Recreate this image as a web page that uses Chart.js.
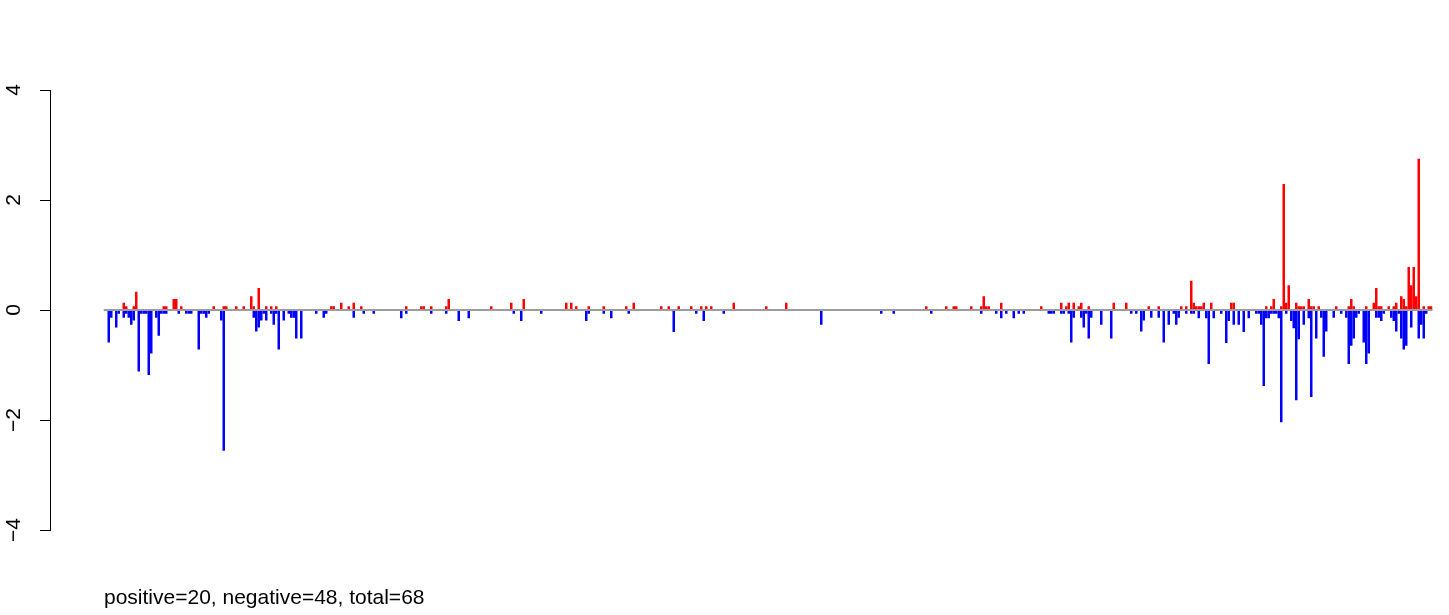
<!DOCTYPE html>
<html>
<head>
<meta charset="utf-8">
<script src="https://cdn.jsdelivr.net/npm/chart.js@4/dist/chart.umd.min.js"></script>
<style>
  html, body { margin: 0; padding: 0; background: #fff; }
  #wrap { position: relative; width: 1449px; height: 615px; }
  #note {
    position: absolute; left: 104px; top: 585px;
    font-family: "Liberation Sans", Arial, sans-serif; font-size: 21px; color: #000;
    white-space: nowrap;
  }
</style>
</head>
<body>
<div id="wrap">
  <canvas id="chart" width="1449" height="615"></canvas>
  <div id="note">positive=20, negative=48, total=68</div>
</div>
<script>
  // positions along the axis (slot number) and values
  const nSlots = 553;

  const upIdx = [29, 30, 33, 34, 45, 46, 49, 50, 52, 65, 69, 70, 74, 77, 80, 81, 83, 86, 88, 90,
    112, 113, 116, 119, 121, 124, 142, 148, 149, 152, 158, 159, 176, 184, 189, 206, 208, 210,
    215, 221, 230, 233, 244, 247, 251, 256, 260, 262, 264, 273, 286, 294, 350, 358, 361, 362,
    368, 372, 373, 374, 375, 380, 396, 404, 406, 407, 409, 411, 412, 415, 425, 430, 439, 443,
    452, 454, 456, 457, 458, 459, 460, 461, 464, 472, 473, 486, 488, 489, 492, 493, 494, 495,
    498, 499, 500, 501, 503, 504, 505, 507, 514, 519, 520, 521, 526, 529, 530, 531, 532, 535,
    537, 538, 540, 541, 542, 543, 544, 545, 546, 547, 549, 551, 552];
  const upVal = [0.13, 0.07, 0.07, 0.33, 0.07, 0.07, 0.2, 0.2, 0.07, 0.07, 0.07, 0.07, 0.07, 0.07, 0.25, 0.07, 0.4, 0.07, 0.07, 0.07,
    0.07, 0.07, 0.13, 0.07, 0.13, 0.07, 0.07, 0.07, 0.07, 0.07, 0.07, 0.2, 0.07, 0.13, 0.2, 0.13, 0.13, 0.07,
    0.07, 0.07, 0.07, 0.13, 0.07, 0.07, 0.07, 0.07, 0.07, 0.07, 0.07, 0.13, 0.07, 0.13, 0.07, 0.07, 0.07, 0.07,
    0.07, 0.07, 0.25, 0.07, 0.07, 0.13, 0.07, 0.13, 0.07, 0.13, 0.13, 0.07, 0.13, 0.07, 0.13, 0.13, 0.07, 0.07,
    0.07, 0.07, 0.53, 0.13, 0.07, 0.07, 0.07, 0.13, 0.13, 0.13, 0.13, 0.07, 0.07, 0.2, 0.07, 2.29, 0.13, 0.45,
    0.13, 0.07, 0.07, 0.07, 0.2, 0.07, 0.07, 0.07, 0.07, 0.07, 0.2, 0.07, 0.07, 0.13, 0.4, 0.07, 0.07, 0.07,
    0.07, 0.13, 0.25, 0.2, 0.07, 0.78, 0.45, 0.78, 0.25, 2.75, 0.07, 0.07, 0.07];

  const downIdx = [23, 24, 26, 27, 29, 30, 31, 32, 33, 35, 36, 37, 38, 39, 40, 42, 43, 44, 45, 46,
    51, 54, 55, 56, 59, 60, 61, 62, 63, 68, 69, 81, 82, 83, 84, 85, 86, 88, 89, 90, 91, 93, 95,
    96, 97, 98, 100, 106, 109, 110, 121, 125, 129, 140, 142, 152, 158, 163, 167, 185, 188, 196,
    214, 215, 221, 224, 231, 249, 258, 261, 269, 308, 332, 337, 352, 372, 378, 380, 382, 385,
    387, 389, 399, 400, 401, 404, 405, 407, 408, 409, 412, 413, 414, 415, 416, 420, 424, 432,
    434, 436, 437, 440, 443, 445, 447, 449, 450, 451, 454, 456, 457, 459, 462, 463, 465, 468,
    470, 471, 473, 475, 477, 479, 482, 483, 484, 485, 486, 487, 488, 489, 490, 491, 492, 494,
    496, 497, 498, 499, 501, 503, 504, 506, 508, 509, 510, 513, 516, 518, 519, 520, 521, 522,
    523, 525, 526, 527, 530, 531, 532, 533, 536, 537, 538, 539, 540, 541, 542, 544, 547, 548,
    549, 550];
  const downVal = [-0.59, -0.14, -0.32, -0.07, -0.14, -0.07, -0.14, -0.27, -0.19, -1.12, -0.07, -0.07, -0.07, -1.18, -0.79, -0.14, -0.47, -0.07, -0.07, -0.07,
    -0.07, -0.07, -0.07, -0.07, -0.72, -0.07, -0.07, -0.14, -0.07, -0.19, -2.56, -0.14, -0.39, -0.32, -0.19, -0.07, -0.19, -0.07, -0.27, -0.07, -0.72, -0.19, -0.07,
    -0.14, -0.14, -0.52, -0.52, -0.07, -0.14, -0.07, -0.14, -0.07, -0.07, -0.15, -0.07, -0.07, -0.07, -0.2, -0.15, -0.07, -0.2, -0.07,
    -0.2, -0.07, -0.07, -0.15, -0.07, -0.4, -0.07, -0.2, -0.07, -0.27, -0.07, -0.07, -0.07, -0.07, -0.07, -0.15, -0.07, -0.15,
    -0.07, -0.07, -0.07, -0.07, -0.07, -0.07, -0.07, -0.07, -0.59, -0.14, -0.14, -0.32, -0.07, -0.52, -0.14, -0.27, -0.52, -0.07,
    -0.07, -0.39, -0.19, -0.14, -0.14, -0.59, -0.27, -0.07, -0.27, -0.14, -0.07, -0.07, -0.07, -0.15, -0.15, -0.98, -0.15, -0.07,
    -0.6, -0.2, -0.27, -0.27, -0.4, -0.15, -0.07, -0.07, -0.27, -1.38, -0.15, -0.15, -0.07, -0.07, -0.07, -0.15, -2.04, -0.07,
    -0.2, -0.33, -1.64, -0.53, -0.27, -0.15, -1.58, -0.52, -0.14, -0.85, -0.39, -0.14, -0.07, -0.14, -0.98, -0.65, -0.52, -0.14,
    -0.07, -0.59, -0.98, -0.79, -0.14, -0.14, -0.2, -0.07, -0.14, -0.2, -0.39, -0.07, -0.52, -0.72, -0.65, -0.32, -0.52, -0.27,
    -0.52, -0.07];

  const yTicks = [-4, -2, 0, 2, 4];
  const zeroLineFrom = 21; // slot where the grey baseline starts

  const labels = Array.from({ length: nSlots }, (_, i) => i + 1);

  function spread(idx, val) {
    const out = new Array(nSlots).fill(null);
    idx.forEach((k, j) => { out[k] = val[j]; });
    return out;
  }

  const zeroLine = {
    id: "zeroLine",
    afterDatasetsDraw(chart) {
      const { ctx, chartArea } = chart;
      const x = chart.scales.x, y = chart.scales.y;
      const py = y.getPixelForValue(0);
      ctx.save();
      ctx.strokeStyle = "#9c9c9c";
      ctx.lineWidth = 2;
      ctx.beginPath();
      ctx.moveTo(x.getPixelForValue(zeroLineFrom), py);
      ctx.lineTo(chartArea.right, py);
      ctx.stroke();
      ctx.restore();
    }
  };

  new Chart(document.getElementById("chart"), {
    type: "bar",
    data: {
      labels: labels,
      datasets: [
        { data: spread(upIdx, upVal), backgroundColor: "#ff0000" },
        { data: spread(downIdx, downVal), backgroundColor: "#0000ff" }
      ]
    },
    options: {
      responsive: false,
      animation: false,
      layout: { padding: { top: 90, bottom: 85, left: 0, right: 16.5 } },
      datasets: {
        bar: { barPercentage: 1, categoryPercentage: 1, borderWidth: 0, inflateAmount: 0 }
      },
      plugins: {
        legend: { display: false },
        tooltip: { enabled: false }
      },
      scales: {
        x: { display: false, stacked: true },
        y: {
          stacked: true,
          min: -4,
          max: 4,
          afterFit: s => { s.width = 50; },
          afterBuildTicks: s => { s.ticks = yTicks.map(v => ({ value: v })); },
          ticks: {
            minRotation: 90,
            maxRotation: 90,
            crossAlign: "center",
            padding: 14,
            color: "#000",
            font: { family: "'Liberation Sans', Arial, sans-serif", size: 21 },
            callback: v => String(v).replace("-", "\u2212")
          },
          grid: { drawOnChartArea: false, tickLength: 10, color: "#000", lineWidth: 1 },
          border: { display: true, color: "#000", width: 1 }
        }
      }
    },
    plugins: [zeroLine]
  });
</script>
</body>
</html>
